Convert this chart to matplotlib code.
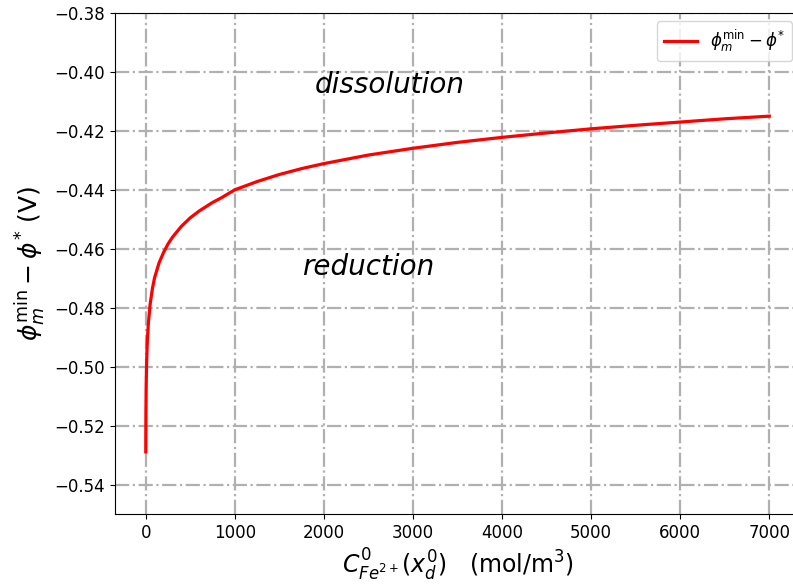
import matplotlib
matplotlib.use("Agg")
import matplotlib.pyplot as plt

# Concentration C (mol/m^3) and potential phi_m^min - phi^* (V)
conc = [1, 2, 3, 5, 7, 10, 15, 20, 30, 50, 75, 100, 150, 200, 250, 300, 400, 500,
        600, 750, 850, 1000, 1250, 1500, 1750, 2000, 2500, 3000, 3500, 4000,
        4500, 5000, 5500, 6000, 6500, 7000]
phi = [-0.5289, -0.5200, -0.5148, -0.5082, -0.5039, -0.4994, -0.4942, -0.4904,
       -0.4854, -0.4788, -0.4736, -0.4698, -0.4648, -0.4613, -0.4584, -0.4561,
       -0.4524, -0.4495, -0.4472, -0.4443, -0.4427, -0.4400, -0.4372, -0.4348,
       -0.4328, -0.4311, -0.4282, -0.4259, -0.4239, -0.4222, -0.4207, -0.4193,
       -0.4181, -0.4170, -0.4159, -0.4150]

yticks = [-0.54, -0.52, -0.50, -0.48, -0.46, -0.44, -0.42, -0.40, -0.38]
xticks = [0, 1000, 2000, 3000, 4000, 5000, 6000, 7000]

fig = plt.figure(figsize=(7.93, 5.87), dpi=100)
W, H = 793.0, 587.0
ax = fig.add_axes([114.5 / W, 73.0 / H, (800.5 - 114.5) / W, 501.0 / H])

ax.plot(conc, phi, color="red", lw=2.3, label=r"$\phi_m^{\min} - \phi^{*}$")

ax.set_xlim(-350, 7350)
ax.set_ylim(-0.55, -0.38)
ax.set_xticks(xticks)
ax.set_yticks(yticks)
ax.set_yticklabels([f"{v:.2f}".replace("-", "\u2212") for v in yticks])
ax.tick_params(labelsize=12)
ax.spines["right"].set_visible(False)

ax.grid(True, color="#b0b0b0", linestyle="-.", linewidth=1.6)
ax.set_axisbelow(True)

ax.set_xlabel(r"$C^0_{Fe^{2+}}(x^0_d)$   (mol/m$^3$)", fontsize=17)
ax.set_ylabel(r"$\phi_m^{\min} - \phi^{*}$ (V)", fontsize=18)

ax.text(2740, -0.4044, "dissolution", fontsize=20, style="italic",
        ha="center", va="center", family="DejaVu Sans")
ax.text(2494, -0.4663, "reduction", fontsize=20, style="italic",
        ha="center", va="center", family="DejaVu Sans")

ax.legend(loc="upper right", fontsize=12)

fig.savefig("out.png", dpi=100)
